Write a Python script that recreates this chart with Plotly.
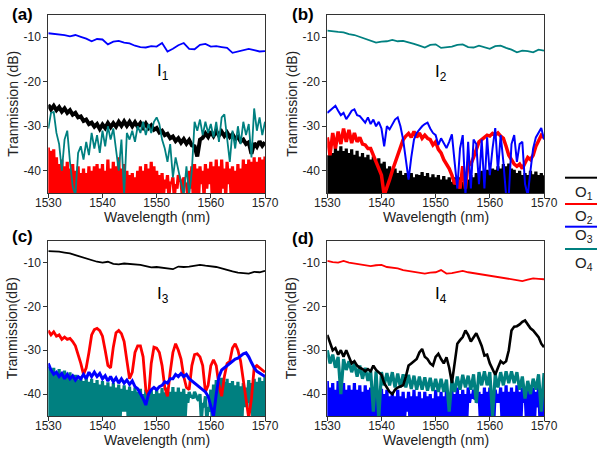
import numpy as np
import plotly.graph_objects as go

# ---------------- data ----------------
WL_COARSE = np.arange(1530, 1570.01, 1.0)    # 41 points
WL_FINE = np.arange(1530, 1570.01, 0.5)      # 81 points
WL_FLOOR = np.arange(1530.25, 1570, 0.5)     # 80 points (between fine points)

x_tick_vals = [1530, 1540, 1550, 1560, 1570]
x_tick_text = ["1530", "1540", "1550", "1560", "1570"]
y_tick_vals = [-10, -20, -30, -40]
y_tick_text = ["-10", "-20", "-30", "-40"]

# ---- panel (a): input I1 ----
a_O3_top = [-9.1, -9.2, -9.4, -9.5, -9.8, -9.5, -9.9, -10.3, -10.9, -10.4,
            -10.5, -11.6, -11.0, -10.8, -11.2, -11.4, -11.9, -12.2, -12.3, -12.0,
            -12.1, -11.3, -13.2, -12.6, -11.8, -11.3, -12.6, -12.7, -11.7, -11.5,
            -12.1, -12.0, -12.2, -12.4, -13.5, -13.2, -12.8, -12.6, -12.9, -13.2,
            -13.1]
a_O1 = [-25.2, -26.2, -25.4, -26.4, -25.7, -26.7, -26.0, -27.0, -26.4, -27.4,
        -27.0, -28.0, -27.8, -28.8, -28.5, -29.5, -29.2, -30.1, -29.5, -30.6,
        -29.6, -30.4, -29.3, -30.2, -29.3, -30.1, -29.0, -29.9, -28.9, -29.9,
        -29.0, -30.0, -29.1, -30.1, -29.3, -30.3, -29.4, -30.4, -29.8, -30.8,
        -30.4, -31.4, -31.0, -32.0, -31.7, -32.7, -32.3, -33.3, -32.7, -33.7,
        -32.9, -33.9, -33.1, -34.3, -34.5, -36.8, -33.0, -32.6, -31.6, -32.4,
        -31.2, -32.2, -31.1, -32.1, -31.2, -32.2, -31.4, -32.4, -31.8, -32.8,
        -32.4, -33.4, -33.0, -34.0, -33.6, -36.2, -33.8, -34.6, -33.4, -34.4,
        -33.6]
a_O4 = [-30.5, -27.0, -26.8, -31.5, -34.0, -40.0, -33.0, -31.0, -38.0, -43.5,
        -45.5, -36.0, -34.5, -37.5, -33.5, -36.5, -31.5, -35.0, -32.0, -36.0,
        -31.0, -34.5, -30.0, -33.0, -30.5, -36.0, -40.0, -33.0, -45.5, -31.5,
        -33.0, -31.0, -33.5, -30.0, -31.5, -29.0, -32.0, -29.5, -31.5, -29.0,
        -28.0, -29.5, -33.0, -35.0, -38.0, -34.0, -41.5, -37.0, -40.0, -43.0,
        -45.5, -39.0, -45.5, -40.0, -29.0, -31.0, -28.5, -32.0, -29.0, -31.5,
        -29.5, -32.5, -29.0, -33.5, -28.0, -27.3, -33.0, -38.0, -31.0, -35.0,
        -30.0, -34.0, -29.0, -32.0, -29.5, -37.0, -26.0, -31.0, -28.0, -32.0,
        -29.0]
a_O2_peaks = [-34.8, -35.5, -35.2, -37.0, -38.5, -37.5, -39.0, -38.0, -39.5, -38.5,
              -40.0, -39.0, -40.5, -39.5, -40.5, -39.0, -40.0, -39.0, -38.5, -39.5,
              -38.5, -40.0, -37.5, -39.5, -38.0, -39.0, -37.0, -39.5, -38.5, -40.0,
              -41.0, -40.5, -41.5, -40.0, -39.0, -40.0, -38.5, -39.5, -38.0, -39.0,
              -40.0, -41.0, -40.5, -42.0, -41.0, -42.5, -41.5, -43.0, -41.0, -42.5,
              -41.5, -43.0, -40.0, -39.0, -38.5, -39.5, -39.0, -40.0, -38.5, -39.5,
              -38.0, -39.0, -37.5, -39.0, -37.5, -39.5, -38.0, -39.5, -39.0, -40.0,
              -38.5, -39.5, -37.5, -38.5, -37.5, -38.0, -37.0, -38.0, -37.0, -37.5,
              -36.8]
a_O2_troughs = [-46, -46, -46, -46, -46, -46, -46, -46, -46, -46,
                -46, -46, -46, -46, -46, -46, -46, -46, -46, -46,
                -46, -46, -46, -46, -46, -46, -46, -46, -46, -46,
                -46, -46, -46, -46, -46, -46, -46, -46, -46, -46,
                -46, -46, -46, -44, -46, -43, -46, -44, -42, -46,
                -43, -46, -44, -46, -46, -46, -43, -46, -44, -43,
                -46, -46, -46, -46, -44, -46, -43, -46, -46, -46,
                -46, -46, -46, -46, -46, -46, -46, -46, -46, -46]

# ---- panel (b): input I2 ----
b_O4_top = [-8.5, -8.7, -8.8, -8.9, -9.3, -9.5, -9.9, -10.3, -10.8, -11.2,
            -11.0, -10.9, -10.6, -10.9, -10.8, -11.1, -11.5, -11.9, -12.3, -11.7,
            -11.6, -12.4, -12.3, -12.1, -11.7, -11.6, -12.2, -12.3, -11.9, -12.3,
            -12.6, -12.0, -11.9, -12.4, -12.8, -13.4, -13.0, -13.1, -13.4, -12.8,
            -13.0]
b_O3 = [-27.0, -26.5, -26.0, -25.4, -26.5, -27.5, -27.0, -28.4, -27.5, -26.5,
        -26.2, -27.5, -27.7, -28.5, -29.2, -28.0, -29.5, -28.5, -30.0, -29.0,
        -30.5, -34.5, -30.0, -30.7, -29.5, -28.5, -28.0, -30.0, -33.0, -38.0,
        -42.0, -37.0, -33.0, -31.5, -30.7, -30.0, -29.5, -29.2, -30.5, -31.5,
        -32.0, -34.2, -32.7, -34.0, -34.9, -33.5, -31.8, -38.0, -44.0, -35.0,
        -32.0, -45.5, -33.5, -44.0, -33.0, -34.0, -43.0, -33.0, -44.0, -32.5,
        -41.0, -35.0, -30.4, -40.0, -32.0, -38.0, -45.5, -45.5, -34.0, -32.0,
        -38.0, -34.0, -33.5, -43.0, -45.5, -40.0, -35.0, -32.5, -31.5, -30.4,
        -33.0]
b_O2 = [-32.5, -36.5, -31.5, -35.0, -31.2, -34.0, -30.5, -33.5, -30.8, -33.8,
        -31.5, -33.5, -32.5, -34.0, -34.2, -35.0, -35.0, -36.5, -37.5, -39.0,
        -41.0, -45.5, -44.0, -42.0, -40.0, -38.2, -36.5, -35.0, -33.0, -32.2,
        -31.6, -32.5, -31.2, -32.5, -31.5, -32.7, -32.0, -32.7, -33.0, -34.2,
        -33.5, -35.2, -36.0, -37.5, -38.5, -39.5, -41.0, -43.0, -42.0, -44.0,
        -39.0, -44.0, -38.0, -38.5, -37.0, -35.0, -33.5, -33.0, -32.5, -32.0,
        -32.2, -31.6, -32.0, -31.5, -32.2, -32.7, -34.5, -36.5, -37.5, -38.5,
        -39.0, -38.5, -39.5, -38.0, -37.0, -37.5, -36.5, -34.5, -33.0, -32.0,
        -32.5]
b_O1_peaks = [-36.5, -35.5, -36.0, -34.8, -35.5, -34.5, -35.6, -35.0, -36.0, -35.2,
              -36.4, -35.5, -36.8, -36.0, -37.0, -36.4, -37.5, -36.8, -37.7, -37.2,
              -38.4, -38.0, -39.5, -39.0, -40.0, -39.5, -40.5, -40.0, -41.0, -40.5,
              -41.5, -40.5, -41.5, -40.8, -41.0, -40.3, -41.2, -40.5, -41.5, -40.8,
              -41.5, -41.0, -42.0, -41.2, -42.0, -41.5, -42.5, -41.5, -42.0, -41.5,
              -42.5, -41.5, -42.0, -41.0, -41.5, -40.5, -41.0, -40.0, -40.5, -39.8,
              -40.0, -39.5, -39.8, -39.0, -39.5, -38.5, -39.0, -38.4, -39.5, -39.8,
              -40.5, -40.0, -41.0, -40.5, -41.0, -40.0, -40.8, -40.2, -41.0, -40.5,
              -41.0]
b_O1_troughs = [-46, -46, -46, -46, -46, -46, -46, -46, -46, -46,
                -46, -46, -46, -46, -46, -46, -46, -46, -46, -46,
                -46, -46, -46, -46, -46, -46, -46, -46, -46, -46,
                -46, -46, -46, -46, -46, -46, -46, -46, -46, -46,
                -46, -46, -46, -46, -46, -46, -46, -46, -46, -46,
                -46, -46, -46, -46, -46, -46, -46, -46, -46, -46,
                -46, -46, -46, -46, -46, -46, -46, -46, -46, -46,
                -46, -46, -46, -46, -46, -46, -46, -46, -46, -46]

# ---- panel (c): input I3 ----
c_O1_top = [-7.4, -7.4, -7.5, -7.7, -7.9, -8.3, -8.7, -9.1, -9.4, -9.8,
            -10.0, -9.8, -10.3, -10.4, -10.2, -10.3, -10.5, -10.5, -10.8, -11.1,
            -11.0, -11.2, -11.3, -11.5, -10.9, -11.0, -10.9, -10.7, -10.5, -10.7,
            -10.8, -11.0, -11.3, -11.7, -12.0, -12.3, -12.4, -12.5, -12.1, -12.2,
            -11.9]
c_O2 = [-25.5, -26.5, -25.8, -26.8, -26.5, -27.5, -27.0, -27.5, -27.3, -28.0,
        -29.0, -30.8, -33.0, -35.5, -34.0, -30.5, -26.5, -25.3, -25.0, -25.5,
        -26.8, -30.0, -33.5, -34.0, -29.3, -26.0, -25.5, -26.2, -28.0, -32.3,
        -36.5, -35.0, -30.5, -29.0, -29.0, -31.5, -39.0, -40.5, -33.0, -29.3,
        -29.5, -30.5, -33.5, -38.5, -40.5, -35.0, -30.5, -28.5, -30.0, -32.0,
        -36.0, -38.5, -39.0, -33.5, -31.0, -30.8, -31.5, -33.5, -39.5, -38.0,
        -33.5, -32.2, -33.5, -38.0, -40.5, -36.0, -33.0, -32.5, -29.5, -28.5,
        -30.0, -32.5, -37.0, -42.0, -45.5, -41.0, -34.0, -33.5, -34.0, -34.5,
        -35.0]
c_O3 = [-33.0, -34.5, -35.5, -35.0, -36.0, -35.3, -36.5, -35.5, -36.5, -35.8,
        -36.8, -36.0, -36.5, -35.5, -36.5, -35.0, -36.0, -35.0, -36.0, -35.3,
        -36.5, -35.8, -37.0, -36.0, -37.2, -36.3, -37.5, -36.5, -37.5, -36.8,
        -37.8, -37.0, -38.3, -38.8, -39.9, -41.0, -42.5, -40.0, -39.0, -38.5,
        -39.0, -38.3, -38.0, -37.2, -37.5, -36.5, -36.5, -35.5, -36.0, -35.3,
        -36.0, -35.5, -36.5, -37.0, -37.5, -38.0, -38.5, -39.0, -39.5, -40.5,
        -43.0, -45.0, -40.0, -36.0, -34.5, -34.0, -33.5, -33.0, -32.5, -32.0,
        -31.8, -31.3, -30.8, -30.6, -31.5, -32.8, -34.0, -34.8, -35.2, -35.5,
        -36.0]
c_O4_peaks = [-33.8, -34.8, -34.0, -35.0, -34.3, -35.3, -34.6, -35.8, -35.0, -36.2,
              -35.6, -36.6, -36.0, -37.0, -36.2, -37.2, -36.5, -37.5, -36.8, -37.8,
              -37.0, -38.0, -37.3, -38.3, -37.5, -38.5, -37.8, -38.8, -38.0, -39.0,
              -38.3, -39.3, -38.5, -39.5, -38.8, -40.0, -39.0, -40.0, -39.0, -40.0,
              -38.8, -39.8, -38.6, -39.6, -38.5, -39.5, -38.4, -39.5, -38.5, -39.5,
              -38.8, -40.0, -39.5, -40.5, -39.5, -41.0, -40.0, -42.0, -40.5, -43.0,
              -39.0, -37.8, -36.8, -37.5, -36.3, -37.2, -36.5, -37.5, -37.0, -38.0,
              -37.2, -38.2, -37.5, -38.5, -36.8, -37.5, -36.5, -37.2, -36.2, -37.0,
              -36.0]
c_O4_troughs = [-46, -46, -46, -46, -46, -46, -46, -46, -46, -46,
                -46, -46, -46, -46, -46, -46, -46, -46, -46, -46,
                -46, -46, -46, -46, -46, -46, -46, -44, -44, -46,
                -46, -46, -46, -46, -46, -46, -46, -46, -46, -46,
                -46, -46, -46, -46, -46, -46, -46, -46, -46, -46,
                -46, -42, -40.5, -41, -40.5, -41.5, -46, -43, -46, -44,
                -46, -46, -46, -46, -46, -46, -46, -46, -46, -46,
                -46, -46, -43, -42, -43, -46, -46, -46, -46, -46]

# ---- panel (d): input I4 ----
d_O2_top = [-9.6, -9.9, -10.0, -9.6, -10.0, -10.2, -10.4, -10.5, -10.8, -10.6,
            -10.5, -11.0, -11.1, -11.3, -11.7, -11.9, -12.2, -12.4, -12.5, -12.3,
            -12.2, -11.7, -12.5, -12.4, -12.2, -11.9, -12.2, -12.4, -12.6, -12.8,
            -13.0, -13.2, -13.4, -13.6, -13.8, -14.0, -14.2, -13.9, -13.6, -13.7,
            -13.8]
d_O1 = [-26.5, -28.5, -30.0, -29.5, -31.0, -30.0, -31.5, -30.0, -31.5, -33.0,
        -32.5, -33.5, -34.0, -34.3, -34.8, -34.3, -34.8, -33.5, -34.5, -35.0,
        -35.6, -37.5, -38.5, -39.5, -40.0, -39.0, -38.5, -38.3, -38.0, -36.0,
        -33.5, -33.0, -32.5, -32.0, -30.5, -29.7, -31.5, -32.0, -33.0, -33.5,
        -31.5, -30.8, -32.0, -33.0, -31.6, -34.0, -37.5, -33.0, -28.5, -27.7,
        -27.0, -25.5, -26.5, -28.0, -27.0, -26.1, -27.5, -29.0, -31.2, -31.0,
        -33.0, -34.5, -35.6, -34.0, -32.5, -33.0, -32.5, -30.0, -25.5, -24.6,
        -24.5, -24.1, -23.5, -23.2, -24.0, -25.0, -25.5, -26.3, -27.0, -28.5,
        -29.3]
d_O4 = [-30.0, -33.0, -31.0, -34.0, -31.5, -40.0, -32.0, -34.5, -32.5, -35.0,
        -33.0, -36.0, -33.5, -36.5, -34.0, -37.0, -34.5, -44.0, -34.8, -45.5,
        -35.0, -38.0, -35.2, -38.0, -35.0, -38.5, -35.3, -38.5, -35.5, -38.5,
        -35.6, -38.8, -35.8, -39.0, -36.0, -39.0, -36.2, -39.2, -36.3, -39.3,
        -36.5, -39.5, -36.5, -39.5, -36.7, -44.0, -36.8, -39.5, -36.0, -39.0,
        -35.6, -38.5, -35.8, -39.0, -35.5, -42.0, -35.0, -38.0, -34.8, -38.0,
        -35.0, -45.0, -35.5, -38.5, -35.0, -38.0, -34.8, -37.5, -34.8, -37.5,
        -35.0, -39.0, -36.0, -41.0, -37.0, -40.0, -36.5, -39.0, -35.5, -44.0,
        -35.2]
d_O3_peaks = [-37.0, -38.5, -37.5, -39.0, -37.0, -38.5, -37.5, -39.0, -38.0, -39.0,
              -37.5, -39.0, -38.0, -39.5, -38.0, -39.0, -38.5, -39.5, -38.5, -40.0,
              -38.8, -40.0, -39.0, -40.5, -39.5, -40.5, -39.0, -40.5, -39.5, -41.0,
              -39.5, -40.5, -39.0, -40.5, -39.5, -41.0, -39.5, -40.5, -40.0, -41.0,
              -39.0, -40.5, -39.5, -40.5, -39.0, -40.5, -39.0, -40.0, -38.5, -40.0,
              -39.0, -40.0, -38.5, -40.0, -39.0, -41.0, -39.5, -40.0, -38.5, -39.5,
              -38.5, -40.0, -39.0, -40.0, -38.5, -39.5, -38.0, -39.5, -38.5, -39.5,
              -38.0, -39.5, -38.5, -39.5, -38.0, -39.0, -38.5, -39.5, -38.0, -39.5,
              -38.0]
d_O3_troughs = [-46, -46, -46, -46, -46, -46, -46, -46, -46, -46,
                -46, -46, -46, -46, -46, -46, -46, -46, -46, -46,
                -46, -46, -46, -46, -46, -46, -46, -46, -46, -44,
                -46, -46, -46, -46, -46, -46, -46, -46, -46, -46,
                -46, -46, -46, -46, -46, -46, -46, -46, -46, -46,
                -46, -46, -42, -41, -41, -42, -46, -46, -46, -46,
                -46, -46, -42, -42, -46, -46, -46, -46, -46, -46,
                -46, -46, -42, -46, -46, -46, -46, -43, -46, -46]

for arr in [a_O3_top, b_O4_top, c_O1_top, d_O2_top]:
    assert len(arr) == 41, len(arr)
for arr in [a_O1, a_O4, a_O2_peaks, b_O3, b_O2, b_O1_peaks, c_O2, c_O3,
            c_O4_peaks, d_O1, d_O4, d_O3_peaks]:
    assert len(arr) == 81, len(arr)
for arr in [a_O2_troughs, b_O1_troughs, c_O4_troughs, d_O3_troughs]:
    assert len(arr) == 80, len(arr)


def dense(peaks, troughs):
    """Merge noise peaks (on the 0.5 nm grid) with the noise troughs between them."""
    xs, ys = [], []
    for i, p in enumerate(peaks):
        xs.append(WL_FINE[i]); ys.append(p)
        if i < len(troughs):
            xs.append(WL_FLOOR[i]); ys.append(troughs[i])
    return xs, ys


# ---------------- styling ----------------
COL = {"O1": "#000000", "O2": "#ff0000", "O3": "#0000ff", "O4": "#008080"}
W, H = 597, 453
FONT = "Arial, Liberation Sans, sans-serif"


def fx(p):
    return p / W


def fy(p):
    return 1 - p / H


# pixel frames of the four plot areas (left, right, top, bottom)
FRAMES = {
    1: (48.3, 265.0, 15.0, 193.0),
    2: (327.3, 544.0, 15.0, 193.0),
    3: (48.3, 265.0, 240.7, 416.0),
    4: (327.3, 544.0, 240.7, 416.0),
}

fig = go.Figure()


def add(panel, x, y, color, width):
    sfx = "" if panel == 1 else str(panel)
    fig.add_trace(go.Scatter(x=list(x), y=list(y), mode="lines",
                             line=dict(color=color, width=width),
                             xaxis="x" + sfx, yaxis="y" + sfx,
                             showlegend=False, hoverinfo="skip"))


DENSE_W = 3.2
# panel (a)
add(1, *dense(a_O2_peaks, a_O2_troughs), COL["O2"], DENSE_W)
add(1, WL_FINE, a_O1, COL["O1"], 4.0)
add(1, WL_FINE, a_O4, COL["O4"], 1.8)
add(1, WL_COARSE, a_O3_top, COL["O3"], 1.8)
# panel (b)
add(2, *dense(b_O1_peaks, b_O1_troughs), COL["O1"], DENSE_W)
add(2, WL_FINE, b_O2, COL["O2"], 3.5)
add(2, WL_FINE, b_O3, COL["O3"], 2.0)
add(2, WL_COARSE, b_O4_top, COL["O4"], 1.8)
# panel (c)
add(3, *dense(c_O4_peaks, c_O4_troughs), COL["O4"], DENSE_W)
add(3, WL_FINE, c_O2, COL["O2"], 2.8)
add(3, WL_FINE, c_O3, COL["O3"], 3.0)
add(3, WL_COARSE, c_O1_top, COL["O1"], 1.8)
# panel (d)
add(4, *dense(d_O3_peaks, d_O3_troughs), COL["O3"], DENSE_W)
add(4, WL_FINE, d_O4, COL["O4"], 3.2)
add(4, WL_FINE, d_O1, COL["O1"], 2.6)
add(4, WL_COARSE, d_O2_top, COL["O2"], 1.8)

axis_common = dict(showline=True, linecolor="#333333", linewidth=1, mirror=True,
                   ticks="outside", ticklen=4, tickwidth=1, tickcolor="#333333",
                   showgrid=False, zeroline=False, automargin=False,
                   tickfont=dict(family=FONT, size=12, color="#222222"))

layout = dict(width=W, height=H, autosize=False,
              margin=dict(l=0, r=0, t=0, b=0, pad=0, autoexpand=False),
              paper_bgcolor="white", plot_bgcolor="white",
              showlegend=False)
for k, (l, r, t, b) in FRAMES.items():
    sfx = "" if k == 1 else str(k)
    layout["xaxis" + sfx] = dict(axis_common, domain=[fx(l), fx(r)], anchor="y" + sfx,
                                 range=[1530, 1570], tickvals=x_tick_vals, ticktext=x_tick_text,
                                 ticklabelstandoff=-5)
    layout["yaxis" + sfx] = dict(axis_common, domain=[fy(b), fy(t)], anchor="x" + sfx,
                                 range=[-45, -5], tickvals=y_tick_vals, ticktext=y_tick_text)
fig.update_layout(**layout)

ann = []
panel_letters = ["(a)", "(b)", "(c)", "(d)"]
inputs = ["I<sub>1</sub>", "I<sub>2</sub>", "I<sub>3</sub>", "I<sub>4</sub>"]
ytitles = ["Tranmission (dB)", "Tranmission (dB)", "Tranmission(dB)", "Tranmission(dB)"]
letter_pos = [(22.5, 15), (302.5, 15), (22.5, 236), (302.5, 238)]
input_pos = [(163, 72), (441, 73), (163, 295), (441, 295)]
for k, (l, r, t, b) in FRAMES.items():
    i = k - 1
    ann.append(dict(text="<b>%s</b>" % panel_letters[i], x=fx(letter_pos[i][0]), y=fy(letter_pos[i][1]),
                    font=dict(family=FONT, size=17, color="black")))
    ann.append(dict(text=inputs[i], x=fx(input_pos[i][0]), y=fy(input_pos[i][1]),
                    font=dict(family=FONT, size=17, color="black")))
    ann.append(dict(text="Wavelength (nm)", x=fx((l + r) / 2), y=fy(b + 24),
                    font=dict(family=FONT, size=14, color="#222222")))
    ann.append(dict(text=ytitles[i], x=fx(l - 35.5), y=fy((t + b) / 2), textangle=-90,
                    font=dict(family=FONT, size=14, color="#222222")))

# legend: a line above each label
legend_lines = [("O1", 177.7, 193), ("O2", 204, 216), ("O3", 226.7, 235), ("O4", 249, 263)]
shapes = []
for name, ly, ty in legend_lines:
    shapes.append(dict(type="line", xref="paper", yref="paper", x0=fx(565), x1=fx(597),
                       y0=fy(ly), y1=fy(ly), line=dict(color=COL[name], width=2)))
    ann.append(dict(text="O<sub>%s</sub>" % name[1], x=fx(584), y=fy(ty),
                    font=dict(family=FONT, size=15, color="#222222")))

for a in ann:
    a.update(xref="paper", yref="paper", showarrow=False, xanchor="center", yanchor="middle")
fig.update_layout(annotations=ann, shapes=shapes)

fig.write_html("out.html", config={"displayModeBar": False},
               post_script="document.body.style.margin='0';")
